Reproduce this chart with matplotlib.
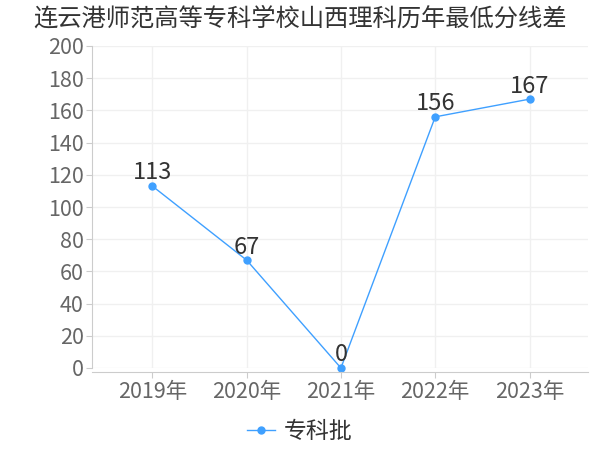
import matplotlib
matplotlib.use("Agg")
import matplotlib.pyplot as plt

plt.rcParams['font.family'] = ['Noto Sans CJK SC', 'DejaVu Sans']

years = ['2019年', '2020年', '2021年', '2022年', '2023年']
scores = [113, 67, 0, 156, 167]
series_name = '专科批'

line_color = '#3fa0ff'
text_color = '#333333'
tick_color = '#666666'

fig = plt.figure(figsize=(6, 4.5), dpi=100)
ax = fig.add_axes([92 / 600, 1 - 368 / 450, 496 / 600, 322 / 450])

x = list(range(len(years)))
ax.plot(x, scores, color=line_color, linewidth=1, marker='o', markersize=5,
        label=series_name, clip_on=False)
for xi, v in zip(x, scores):
    ax.text(xi, v + 1, str(v), ha='center', va='bottom', fontsize=17, color=text_color)

ax.set_xlim(-0.64, 4.62)
ax.set_ylim(0, 200)
ax.set_yticks(range(0, 201, 20))
ax.set_xticks(x)
ax.set_xticklabels(years)
ax.grid(True, color='#f0f0f0', linewidth=1)
ax.set_axisbelow(True)

for s in ['top', 'right']:
    ax.spines[s].set_visible(False)
ax.spines['left'].set_color('#cccccc')
ax.spines['bottom'].set_color('#cccccc')
ax.spines['bottom'].set_position(('outward', 3))
ax.tick_params(axis='both', colors='#cccccc', labelcolor=tick_color, labelsize=15.5, length=4)
ax.tick_params(axis='x', pad=2)
ax.tick_params(axis='y', pad=2)

fig.text(0.5, 1 - 19 / 450, '连云港师范高等专科学校山西理科历年最低分线差',
         ha='center', va='center', fontsize=17.5, color=text_color)

fig.legend(loc='center', bbox_to_anchor=(0.5, 1 - 432 / 450), frameon=False,
           fontsize=16.5, handlelength=1.2, handletextpad=0.4, labelcolor=text_color)

fig.savefig('out.png', dpi=100)
